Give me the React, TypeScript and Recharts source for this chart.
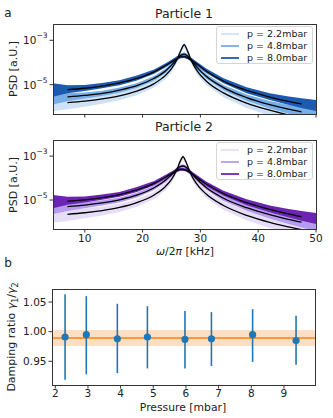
import React from 'react';
import { ComposedChart, Area, Line, Scatter, ErrorBar, XAxis, YAxis, ReferenceLine, ReferenceArea } from 'recharts';

const FONT = '"DejaVu Sans", sans-serif';
const AXIS = '#333';

// ---- panel a: PSD spectra (log10 of PSD) ----
const freqP1 = [4.5, 7, 10, 13, 16, 19, 22, 24, 25, 26, 26.6, 27.2, 27.8, 28.5, 29.5, 31, 34, 38, 42, 45, 47.5, 50];
const freqP2 = [4.5, 7, 10, 13, 16, 19, 22, 24, 25, 26, 26.5, 27, 27.5, 28.2, 29.2, 31, 34, 38, 42, 45, 47.5, 50];

const p1Fit22 = [-5.85, -5.81, -5.74, -5.64, -5.5, -5.29, -4.95, -4.57, -4.28, -3.84, -3.47, -3.2, -3.5, -3.95, -4.4, -4.83, -5.37, -5.83, -6.15, -6.35, -6.5, -6.62];
const p1Fit48 = [-5.59, -5.55, -5.48, -5.39, -5.24, -5.04, -4.71, -4.37, -4.12, -3.83, -3.68, -3.62, -3.71, -3.93, -4.24, -4.62, -5.13, -5.58, -5.9, -6.09, -6.22, -6.34];
const p1Fit80 = [-5.26, -5.22, -5.16, -5.06, -4.92, -4.72, -4.42, -4.13, -3.97, -3.81, -3.75, -3.74, -3.79, -3.9, -4.09, -4.38, -4.84, -5.26, -5.56, -5.74, -5.87, -5.99];

const p2Fit22 = [-5.69, -5.65, -5.58, -5.48, -5.34, -5.12, -4.77, -4.37, -4.06, -3.57, -3.24, -3.03, -3.26, -3.73, -4.21, -4.73, -5.25, -5.7, -6.02, -6.21, -6.35, -6.48];
const p2Fit48 = [-5.34, -5.3, -5.23, -5.13, -4.99, -4.78, -4.44, -4.09, -3.85, -3.58, -3.48, -3.45, -3.51, -3.7, -4.0, -4.43, -4.92, -5.35, -5.67, -5.87, -6.01, -6.14];
const p2Fit80 = [-5.09, -5.05, -4.99, -4.89, -4.75, -4.54, -4.24, -3.95, -3.79, -3.65, -3.61, -3.61, -3.64, -3.74, -3.93, -4.27, -4.71, -5.12, -5.43, -5.62, -5.76, -5.89];

// spread of the noisy measured spectra above / below the fit (decades)
const spreadUp22 = [0.35, 0.25, 0.2, 0.18, 0.17, 0.16, 0.15, 0.14, 0.13, 0.13, 0.12, 0.1, 0.12, 0.13, 0.14, 0.15, 0.17, 0.2, 0.23, 0.27, 0.3, 0.35];
const spreadDn22 = [0.35, 0.3, 0.25, 0.22, 0.2, 0.19, 0.18, 0.17, 0.16, 0.15, 0.15, 0.14, 0.15, 0.16, 0.17, 0.18, 0.2, 0.22, 0.25, 0.3, 0.35, 0.4];
const spreadUp48 = [0.3, 0.18, 0.13, 0.12, 0.11, 0.11, 0.1, 0.1, 0.09, 0.09, 0.09, 0.08, 0.09, 0.09, 0.1, 0.1, 0.12, 0.14, 0.17, 0.2, 0.24, 0.28];
const spreadDn48 = [0.3, 0.2, 0.14, 0.12, 0.12, 0.11, 0.1, 0.1, 0.09, 0.09, 0.09, 0.08, 0.09, 0.09, 0.1, 0.1, 0.12, 0.14, 0.17, 0.2, 0.24, 0.28];
const spreadUp80 = [0.32, 0.2, 0.15, 0.14, 0.12, 0.13, 0.11, 0.1, 0.09, 0.1, 0.08, 0.07, 0.08, 0.1, 0.1, 0.11, 0.13, 0.15, 0.18, 0.22, 0.26, 0.3];
const spreadDn80 = [0.28, 0.16, 0.12, 0.1, 0.1, 0.09, 0.09, 0.08, 0.08, 0.07, 0.06, 0.06, 0.06, 0.07, 0.08, 0.09, 0.1, 0.12, 0.13, 0.15, 0.18, 0.2];

const pressureLabels = ['p = 2.2mbar', 'p = 4.8mbar', 'p = 8.0mbar'];
const blues = ['#cfe2f5', '#78aee6', '#1d5bb0'];
const purples = ['#e6def8', '#b59cf0', '#6c25b3'];

// ---- panel b: damping ratio ----
const pressure = [2.3, 2.95, 3.9, 4.82, 5.97, 6.78, 8.04, 9.37];
const ratio = [0.991, 0.995, 0.988, 0.991, 0.987, 0.988, 0.995, 0.985];
const ratioLow = [0.919, 0.928, 0.93, 0.938, 0.938, 0.942, 0.949, 0.944];
const ratioHigh = [1.063, 1.06, 1.047, 1.043, 1.035, 1.033, 1.038, 1.027];
const meanRatio = 0.9895;
const meanLow = 0.976;
const meanHigh = 1.003;

const ups = [spreadUp22, spreadUp48, spreadUp80];
const dns = [spreadDn22, spreadDn48, spreadDn80];

function buildPsd(freq: number[], fits: number[][]) {
  return freq.map((f, i) => {
    const row: any = { f };
    fits.forEach((fit, k) => {
      row['band' + k] = [Math.pow(10, fit[i] - dns[k][i]), Math.pow(10, fit[i] + ups[k][i])];
      row['fit' + k] = i === 0 || i === freq.length - 1 ? null : Math.pow(10, fit[i]);
    });
    return row;
  });
}

const psd1 = buildPsd(freqP1, [p1Fit22, p1Fit48, p1Fit80]);
const psd2 = buildPsd(freqP2, [p2Fit22, p2Fit48, p2Fit80]);
const ratioData = pressure.map((x, i) => ({ x, y: ratio[i], err: [ratio[i] - ratioLow[i], ratioHigh[i] - ratio[i]] }));

const LogTick = (props: any) => {
  const { x, y, payload } = props;
  const e = Math.round(Math.log10(payload.value));
  return (
    <text x={x} y={y + 4} textAnchor="end" fontSize={10.5} fill="#222" fontFamily={FONT}>
      10<tspan dy={-6} fontSize={7.5}>{'\u2212' + Math.abs(e)}</tspan>
    </text>
  );
};

const tickStyle = { fontSize: 10.5, fill: '#222', fontFamily: FONT };

function PsdPanel({ data, colors, height, showX, marginTop }: any) {
  return (
    <ComposedChart width={333} height={height} data={data} margin={{ top: marginTop, right: 17, bottom: 0, left: 8 }}>
      <XAxis
        dataKey="f"
        type="number"
        domain={[4.5, 50]}
        ticks={[10, 20, 30, 40, 50]}
        allowDataOverflow
        height={showX ? 27 : 6}
        tickSize={3.5}
        tickMargin={2.5}
        stroke={AXIS}
        axisLine={false}
        tick={showX ? tickStyle : () => <g />}
      />
      <YAxis
        type="number"
        scale="log"
        domain={[Math.pow(10, -6.32), Math.pow(10, -2.266)]}
        allowDataOverflow
        ticks={[1e-5, 1e-3]}
        width={45}
        tickSize={3.5}
        tickMargin={2}
        stroke={AXIS}
        axisLine={false}
        tick={<LogTick />}
      />
      {[0, 1, 2].map((k) => (
        <Area
          key={'b' + k}
          type="linear"
          dataKey={'band' + k}
          stroke="none"
          fill={colors[k]}
          fillOpacity={1}
          isAnimationActive={false}
          dot={false}
          activeDot={false}
        />
      ))}
      {[0, 1, 2].map((k) => (
        <Line
          key={'l' + k}
          type="monotone"
          dataKey={'fit' + k}
          stroke="#000"
          strokeWidth={1.3}
          dot={false}
          activeDot={false}
          isAnimationActive={false}
        />
      ))}
    </ComposedChart>
  );
}

function PsdLegend({ colors, top }: any) {
  return (
    <div
      style={{
        position: 'absolute',
        left: 216,
        top,
        width: 95,
        height: 36,
        border: '1px solid #d6d6d6',
        borderRadius: 3,
        background: 'rgba(255,255,255,0.85)',
      }}
    >
      {pressureLabels.map((lbl, k) => (
        <div key={lbl} style={{ position: 'absolute', left: 0, top: 1 + k * 12, height: 12, width: 95 }}>
          <svg width={28} height={12} style={{ position: 'absolute', left: 0, top: 0 }}>
            <line x1={4} x2={22} y1={6} y2={6} stroke={colors[k]} strokeWidth={1.8} />
          </svg>
          <span
            style={{
              position: 'absolute',
              left: 30,
              top: 0,
              fontSize: 9.5,
              lineHeight: '12px',
              color: '#222',
              whiteSpace: 'nowrap',
            }}
          >
            {lbl}
          </span>
        </div>
      ))}
    </div>
  );
}

// axes box (all four spines, matplotlib style)
const Frame = ({ left, top, width, height }: any) => (
  <div
    style={{
      position: 'absolute',
      left: left - 0.5,
      top: top - 0.5,
      width: width + 1,
      height: height + 1,
      border: '1px solid ' + AXIS,
      boxSizing: 'border-box',
      pointerEvents: 'none',
    }}
  />
);

const centered = (x: number, y: number, extra: any = {}) => ({
  position: 'absolute' as const,
  left: x,
  top: y,
  transform: 'translate(-50%, -50%)',
  whiteSpace: 'nowrap' as const,
  lineHeight: 1,
  color: '#222',
  ...extra,
});

const rotated = (x: number, y: number) => ({
  position: 'absolute' as const,
  left: x,
  top: y,
  transform: 'translate(-50%, -50%) rotate(-90deg)',
  whiteSpace: 'nowrap' as const,
  lineHeight: 1,
  fontSize: 11,
  color: '#222',
});

export default function App() {
  return (
    <div style={{ position: 'absolute', left: 0, top: 0, width: 333, height: 418, background: '#fff', fontFamily: FONT, overflow: 'hidden' }}>
      <div style={{ position: 'absolute', left: 0, top: 0 }}>
        <PsdPanel data={psd1} colors={blues} height={120} showX={false} marginTop={24} />
      </div>
      <div style={{ position: 'absolute', left: 0, top: 116 }}>
        <PsdPanel data={psd2} colors={purples} height={140} showX={true} marginTop={24} />
      </div>
      <div style={{ position: 'absolute', left: 0, top: 256 }}>
        <ComposedChart width={333} height={159} data={ratioData} margin={{ top: 33, right: 18, bottom: 0, left: 8 }}>
          <XAxis
            dataKey="x"
            type="number"
            domain={[1.9, 9.95]}
            ticks={[2, 3, 4, 5, 6, 7, 8, 9]}
            allowDataOverflow
            height={30}
            tickSize={3.5}
            tickMargin={1.5}
            stroke={AXIS}
            axisLine={false}
            tick={tickStyle}
          />
          <YAxis
            type="number"
            domain={[0.91, 1.072]}
            allowDataOverflow
            ticks={[0.95, 1.0, 1.05]}
            tickFormatter={(v: number) => v.toFixed(2)}
            width={44}
            tickSize={3.5}
            tickMargin={2}
            stroke={AXIS}
            axisLine={false}
            tick={tickStyle}
          />
          <ReferenceArea y1={meanLow} y2={meanHigh} fill="#ff7f0e" fillOpacity={0.25} stroke="none" />
          <ReferenceLine y={meanRatio} stroke="#ff7f0e" strokeWidth={1.5} />
          <Scatter
            dataKey="y"
            fill="#1f77b4"
            isAnimationActive={false}
            shape={(p: any) => <circle cx={p.cx} cy={p.cy} r={3.6} fill="#1f77b4" />}
          >
            <ErrorBar dataKey="err" direction="y" width={0} stroke="#1f77b4" strokeWidth={1.6} />
          </Scatter>
        </ComposedChart>
      </div>

      <Frame left={53} top={24} width={263} height={90} />
      <Frame left={53} top={140} width={263} height={89} />
      <Frame left={52} top={289} width={263} height={96} />

      <PsdLegend colors={blues} top={26} />
      <PsdLegend colors={purples} top={142} />

      <div style={centered(8, 13, { fontSize: 12 })}>a</div>
      <div style={centered(184, 14, { fontSize: 12.5 })}>Particle 1</div>
      <div style={centered(184, 127, { fontSize: 12.5 })}>Particle 2</div>
      <div style={rotated(12.5, 69)}>PSD [a.U.]</div>
      <div style={rotated(12.5, 185)}>PSD [a.U.]</div>
      <div style={centered(185, 252, { fontSize: 10.8 })}>
        <i>ω</i>/2<i>π</i> [kHz]
      </div>
      <div style={centered(8, 263, { fontSize: 12 })}>b</div>
      <div style={rotated(12.5, 337)}>
        Damping ratio <i>γ</i>
        <sub style={{ fontSize: 8 }}>1</sub>/<i>γ</i>
        <sub style={{ fontSize: 8 }}>2</sub>
      </div>
      <div style={centered(183, 408, { fontSize: 10.8 })}>Pressure [mbar]</div>
    </div>
  );
}
